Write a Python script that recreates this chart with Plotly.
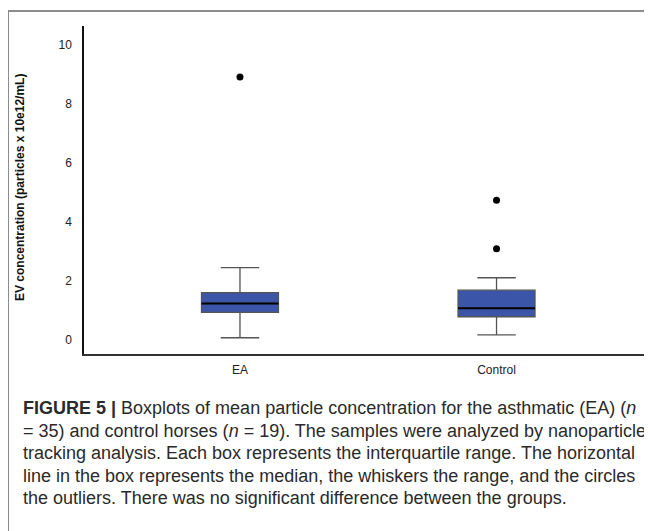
import plotly.graph_objects as go

groups = ["EA", "Control"]
positions = [0, 1]
q1 = [0.94, 0.79]
median = [1.24, 1.08]
q3 = [1.61, 1.69]
lower = [0.08, 0.18]
upper = [2.45, 2.11]
outliers = [[8.9], [4.73, 3.09]]

caption_lines = [
    "<b>FIGURE 5 |</b> Boxplots of mean particle concentration for the asthmatic (EA) (<i>n</i>",
    "= 35) and control horses (<i>n</i> = 19). The samples were analyzed by nanoparticle",
    "tracking analysis. Each box represents the interquartile range. The horizontal",
    "line in the box represents the median, the whiskers the range, and the circles",
    "the outliers. There was no significant difference between the groups.",
]

# page body has an 8px margin; positions below are given in screen pixels
OFF = 8
W, H = 652 - OFF, 531
L = 84 - OFF
T = 26 - OFF
R = W - (652 - OFF)
B = H - (354 - OFF)
pw = W - L - R
ph = H - T - B

def px_x(p):
    return (p - OFF - L) / pw

def px_y(p):
    return (H - B - (p - OFF)) / ph

BOXW = 0.3
fig = go.Figure()
for i, g in enumerate(groups):
    fig.add_trace(go.Box(
        x=[positions[i]], q1=[q1[i]], median=[median[i]], q3=[q3[i]],
        lowerfence=[lower[i]], upperfence=[upper[i]],
        width=BOXW, whiskerwidth=0.5,
        fillcolor="#3b56a8", line=dict(color="#555555", width=1.3),
        boxpoints=False, showlegend=False, name=g, hoverinfo="skip",
    ))
    fig.add_trace(go.Scatter(
        x=[positions[i] - BOXW / 2, positions[i] + BOXW / 2],
        y=[median[i], median[i]], mode="lines",
        line=dict(color="#000000", width=2), showlegend=False, hoverinfo="skip",
    ))
    fig.add_trace(go.Scatter(
        x=[positions[i]] * len(outliers[i]), y=outliers[i], mode="markers",
        marker=dict(color="#000000", size=7), showlegend=False, hoverinfo="skip",
    ))

fig.update_xaxes(
    range=[-0.608, 1.606], tickvals=positions, ticktext=groups,
    showline=True, linecolor="#333333", linewidth=1.5, showgrid=False, zeroline=False,
    ticks="", tickfont=dict(family="Liberation Sans, Arial", size=12, color="#222222"),
    ticklabelstandoff=4, automargin=False,
)
fig.update_yaxes(
    range=[-0.47, 10.63], tickvals=[0, 2, 4, 6, 8, 10],
    showline=True, linecolor="#111111", linewidth=1.5, showgrid=False, zeroline=False,
    ticks="", tickfont=dict(family="Liberation Sans, Arial", size=12, color="#222222"),
    ticklabelstandoff=8, automargin=False,
)

annotations = [dict(
    text="<b>EV concentration (particles x 10e12/mL)</b>", textangle=-90,
    xref="paper", yref="paper", x=px_x(20), y=px_y(188), xanchor="center", yanchor="middle",
    showarrow=False, font=dict(family="Liberation Sans, Arial", size=12, color="#111111"),
)]
line_y = [408, 430.5, 453, 475.5, 498]
for t, yy in zip(caption_lines, line_y):
    annotations.append(dict(
        text=t, xref="paper", yref="paper", x=px_x(21), y=px_y(yy),
        xanchor="left", yanchor="middle", showarrow=False, align="left",
        font=dict(family="Liberation Sans, Arial", size=18, color="#2a2a2a"),
    ))

shapes = [
    dict(type="line", xref="paper", yref="paper", x0=px_x(8), x1=px_x(8), y0=px_y(11), y1=px_y(600),
         line=dict(color="#8c8c8c", width=2)),
    dict(type="line", xref="paper", yref="paper", x0=px_x(8), x1=px_x(700), y0=px_y(11), y1=px_y(11),
         line=dict(color="#8c8c8c", width=2)),
]

fig.update_layout(
    width=W, height=H, margin=dict(l=L, r=R, t=T, b=B),
    paper_bgcolor="white", plot_bgcolor="white",
    annotations=annotations, shapes=shapes,
)
fig.write_html("out.html")
